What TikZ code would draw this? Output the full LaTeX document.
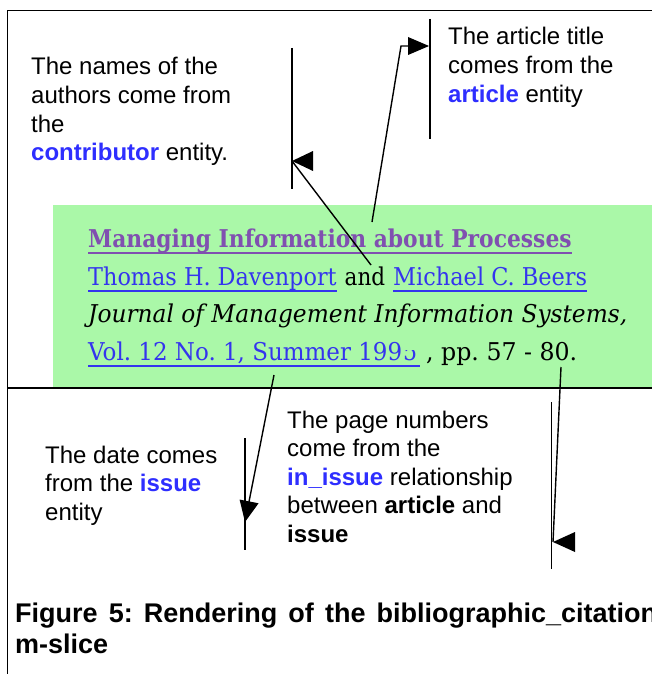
\documentclass[tikz,border=0pt]{standalone}
\usepackage{graphicx}
\usepackage{fontspec}
\setmainfont{Liberation Sans}
\newfontfamily\citefont{DejaVu Serif}
\usetikzlibrary{arrows.meta}
\frenchspacing

\definecolor{citebg}{RGB}{170,248,168}
\definecolor{linkblue}{RGB}{52,52,238}
\definecolor{titlepurple}{RGB}{128,80,176}
\definecolor{keyblue}{RGB}{46,46,255}

% stretch a line of text to a given width, keeping its height
\newcommand\fitw[2]{\resizebox{#1}{\height}{#2}}
% left-aligned lines; the box's baseline is the first line's baseline
\newcommand\notelines[2]{\vtop{\baselineskip=#1\lineskiplimit=-30pt\lineskip=0pt\halign{##\hfil\cr#2\crcr}}}
\newcommand\kw[1]{\textbf{\color{keyblue}#1}}

\begin{document}
\begin{tikzpicture}[x=1pt,y=-1pt,
  frame/.style={line width=1.7pt, line join=miter},
  pointer/.style={line width=1.4pt},
  bar/.style={line width=1.4pt},
  head/.style={fill=black},
  note/.style={anchor=base west, inner sep=0pt, font=\fontsize{24}{28.6}\selectfont},
  cite/.style={anchor=base west, inner sep=0pt, font=\citefont\fontsize{24.5}{24.5}\selectfont},
  link/.style={cite, text=linkblue},
  uline/.style={line width=2pt}]

\useasboundingbox (0,0) rectangle (652,674);

% citation panel and page frame
\fill[citebg] (52.7,205) rectangle (670,387.7);
\draw[frame] (7.5,690) -- (7.5,10.5) -- (670,10.5);
\draw[frame] (7.5,387.7) -- (670,387.7);

% the rendered citation
\node[cite, text=titlepurple] (title) at (88,247) {\fitw{483.5pt}{\bfseries Managing Information about Processes}};
\draw[uline, titlepurple] (88,253) -- (571.5,253);
\node[link] (author1) at (88,285) {\fitw{248.5pt}{Thomas H. Davenport}};
\node[cite] (and) at (344.5,285) {\fitw{40.5pt}{and}};
\node[link] (author2) at (393,285) {\fitw{194pt}{Michael C. Beers}};
\draw[uline, linkblue] (88,290.5) -- (336.5,290.5);
\draw[uline, linkblue] (393,290.5) -- (587,290.5);
\node[cite] (journal) at (88,322) {\fitw{539pt}{\itshape Journal of Management Information Systems,}};
\node[link] (volume) at (88,360) {\fitw{314pt}{Vol. 12 No. 1, Summer 199}};
\begin{scope}
  \clip (402,350) rectangle (420,368);
  \node[link] (yeardigit) at (403,360) {\fitw{14pt}{5}};
\end{scope}
\draw[uline, linkblue] (88,366) -- (420,366);
\node[cite] (pages) at (426,360) {\fitw{151pt}{, pp. 57 - 80.}};

% annotations
\node[note] (authorsnote) at (31,75) {\notelines{28.6pt}{The names of the\cr authors come from\cr the\cr \kw{contributor} entity.}};
\node[note] (articlenote) at (448,45) {\notelines{28.6pt}{The article title\cr comes from the\cr \kw{article} entity}};
\node[note] (datenote) at (45,463) {\notelines{28.6pt}{The date comes\cr from the \kw{issue}\cr entity}};
\node[note] (pagesnote) at (287,428) {\notelines{28.6pt}{The page numbers\cr come from the\cr \kw{in\_issue} relationship\cr between \textbf{article} and\cr \textbf{issue}}};

% caption
\node[note, font=\bfseries\fontsize{27}{31}\selectfont] (caption) at (15,622)
  {\notelines{31pt}{\makebox[642pt][s]{Figure 5: Rendering of the bibliographic\_citation}\cr m-slice}};

% bars beside the annotations
\coordinate (barA1) at (292,48);   \coordinate (barA2) at (292,189);
\coordinate (barB1) at (430,19);   \coordinate (barB2) at (430,139);
\coordinate (barC1) at (245,438);  \coordinate (barC2) at (245,550);
\coordinate (barD1) at (551.7,402); \coordinate (barD2) at (551.7,569);
\draw[bar] (barA1) -- (barA2);
\draw[bar] (barB1) -- (barB2);
\draw[bar] (barC1) -- (barC2);
\draw[bar] (barD1) -- (barD2);

% pointers from the citation to the bars
\coordinate (fromAuthors) at (371,265);  \coordinate (tipA) at (292,161);
\coordinate (fromTitle) at (372,222);    \coordinate (bendB) at (401,46);
\coordinate (neckB) at (408,46);         \coordinate (tipB) at (429,46);
\coordinate (fromDate) at (274,375);     \coordinate (tipC) at (245,522);
\coordinate (fromPages) at (561,367);    \coordinate (tipD) at (553,542);

\draw[pointer] (fromAuthors) -- (tipA);
\fill[head] (tipA) -- ++(21,-10) -- ++(0,20) -- cycle;

\draw[pointer] (fromTitle) -- (bendB) -- (neckB);
\fill[head] (tipB) -- ++(-21,-9) -- ++(0,18) -- cycle;

\draw[pointer, -{Triangle[length=21pt,width=19pt]}] (fromDate) -- (tipC);

\draw[pointer] (fromPages) -- (tipD);
\fill[head] (tipD) -- ++(22,-10) -- ++(0,20) -- cycle;
\end{tikzpicture}
\end{document}
